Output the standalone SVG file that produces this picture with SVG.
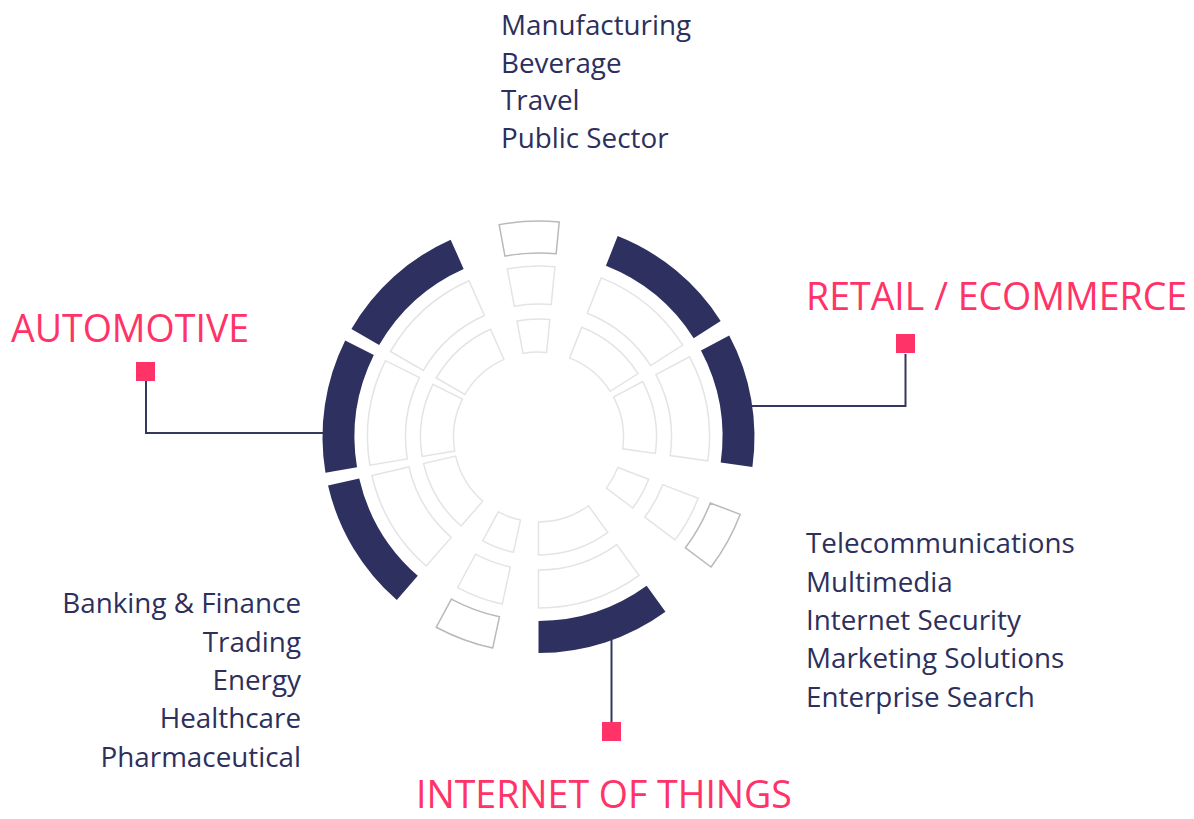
<svg xmlns="http://www.w3.org/2000/svg" xmlns:xlink="http://www.w3.org/1999/xlink" width="1194" height="819" viewBox="0 0 1194 819">
<style>
  .txt { font-family: "Open Sans", "Noto Sans", "Liberation Sans", sans-serif; font-size: 27.8px; fill: #2d2f5c; }
  .ttl { font-family: "Open Sans", "Noto Sans", "Liberation Sans", sans-serif; font-size: 37.5px; fill: #ff3367; }
  .dark { fill: #2e3060; stroke: none; }
  .light { fill: #ffffff; stroke: #e4e4e4; stroke-width: 1.5; }
  .grey { fill: #ffffff; stroke: #b9b9b9; stroke-width: 1.5; }
  .conn { fill: none; stroke: #35375f; stroke-width: 2; }
  .sq { fill: #ff3367; }
</style>
<defs>
  <path id="o36" d="M0,-216 A216,216 0 0 1 126.96,-174.75 L108.15,-148.86 A184,184 0 0 0 0,-184 Z"/>
  <path id="o16" d="M0,-216 A216,216 0 0 1 59.54,-207.63 L50.72,-176.87 A184,184 0 0 0 0,-184 Z"/>
  <path id="m36" d="M0,-171 A171,171 0 0 1 100.51,-138.34 L78.18,-107.60 A133,133 0 0 0 0,-133 Z"/>
  <path id="m16" d="M0,-171 A171,171 0 0 1 47.13,-164.38 L36.66,-127.85 A133,133 0 0 0 0,-133 Z"/>
  <path id="i36" d="M0,-118 A118,118 0 0 1 69.36,-95.46 L49.96,-68.77 A85,85 0 0 0 0,-85 Z"/>
  <path id="i16" d="M0,-118 A118,118 0 0 1 32.53,-113.43 L23.43,-81.71 A85,85 0 0 0 0,-85 Z"/>
</defs>

<g id="connectors">
  <path class="conn" d="M146,381 V433 H324"/>
  <path class="conn" d="M905.5,354 V406 H751"/>
  <path class="conn" d="M611.5,640 V722"/>
</g>

<g id="wheel" transform="translate(538.5,437)">
  <g id="sector1" transform="rotate(-10.5)">
    <use xlink:href="#o16" class="grey"/><use xlink:href="#m16" class="light"/><use xlink:href="#i16" class="light"/>
  </g>
  <g id="sector2" transform="rotate(21.5)">
    <use xlink:href="#o36" class="dark"/><use xlink:href="#m36" class="light"/><use xlink:href="#i36" class="light"/>
  </g>
  <g id="sector3" transform="rotate(62)">
    <use xlink:href="#o36" class="dark"/><use xlink:href="#m36" class="light"/><use xlink:href="#i36" class="light"/>
  </g>
  <g id="sector4" transform="rotate(111)">
    <use xlink:href="#o16" class="grey"/><use xlink:href="#m16" class="light"/><use xlink:href="#i16" class="light"/>
  </g>
  <g id="sector5" transform="rotate(144)">
    <use xlink:href="#o36" class="dark"/><use xlink:href="#m36" class="light"/><use xlink:href="#i36" class="light"/>
  </g>
  <g id="sector6" transform="rotate(192.25)">
    <use xlink:href="#o16" class="grey"/><use xlink:href="#m16" class="light"/><use xlink:href="#i16" class="light"/>
  </g>
  <g id="sector7" transform="rotate(221)">
    <use xlink:href="#o36" class="dark"/><use xlink:href="#m36" class="light"/><use xlink:href="#i36" class="light"/>
  </g>
  <g id="sector8" transform="rotate(260.5)">
    <use xlink:href="#o36" class="dark"/><use xlink:href="#m36" class="light"/><use xlink:href="#i36" class="light"/>
  </g>
  <g id="sector9" transform="rotate(300)">
    <use xlink:href="#o36" class="dark"/><use xlink:href="#m36" class="light"/><use xlink:href="#i36" class="light"/>
  </g>
</g>

<g id="top-list">
  <text class="txt" x="501" y="35">Manufacturing</text>
  <text class="txt" x="501" y="73">Beverage</text>
  <text class="txt" x="501" y="110">Travel</text>
  <text class="txt" x="501" y="148">Public Sector</text>
</g>

<g id="automotive">
  <text class="ttl" x="11" y="342">AUTOMOTIVE</text>
  <rect class="sq" x="136" y="362" width="19" height="19"/>
</g>

<g id="retail">
  <text class="ttl" x="806" y="310">RETAIL / ECOMMERCE</text>
  <rect class="sq" x="896" y="334" width="19" height="19"/>
</g>

<g id="iot">
  <rect class="sq" x="602" y="722" width="19" height="19"/>
  <text class="ttl" x="416" y="808">INTERNET OF THINGS</text>
</g>

<g id="left-list">
  <text class="txt" x="301" y="613" text-anchor="end">Banking &amp; Finance</text>
  <text class="txt" x="301" y="652" text-anchor="end">Trading</text>
  <text class="txt" x="301" y="690" text-anchor="end">Energy</text>
  <text class="txt" x="301" y="728" text-anchor="end">Healthcare</text>
  <text class="txt" x="301" y="767" text-anchor="end">Pharmaceutical</text>
</g>

<g id="right-list">
  <text class="txt" x="806" y="553">Telecommunications</text>
  <text class="txt" x="806" y="592">Multimedia</text>
  <text class="txt" x="806" y="630">Internet Security</text>
  <text class="txt" x="806" y="668">Marketing Solutions</text>
  <text class="txt" x="806" y="707">Enterprise Search</text>
</g>
</svg>
